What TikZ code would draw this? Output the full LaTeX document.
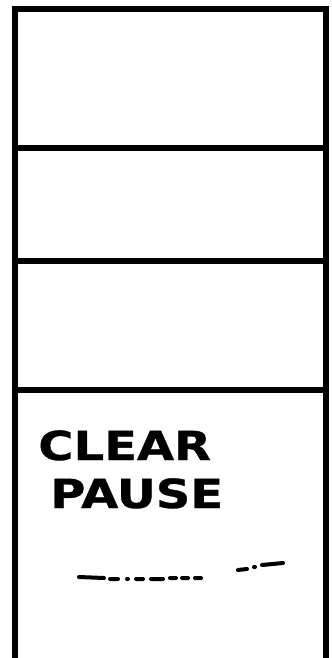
\documentclass[tikz,border=0pt]{standalone}
\usepackage{fontspec}
\newfontfamily\handfont[FakeBold=0.8]{DejaVu Sans Bold}
\tikzset{
  frame/.style={line width=4.8pt, line cap=rect},
  divider/.style={line width=4.8pt},
  scrib/.style={line width=3pt, line cap=round},
  lbl/.style={font=\handfont\fontsize{30}{30}\selectfont, anchor=base west, inner sep=0pt, xscale=1.2}
}
\begin{document}
\begin{tikzpicture}[x=0.75pt, y=-0.75pt]
\useasboundingbox (0,0) rectangle (332,658);
\coordinate (tl) at (15,9);
\coordinate (tr) at (326,9);
\coordinate (bl) at (15,662);
\coordinate (br) at (326,662);
\draw[frame] (bl) -- (tl) -- (tr) -- (br);
\coordinate (a1) at (15,148); \coordinate (a2) at (326,148);
\coordinate (b1) at (15,261); \coordinate (b2) at (326,261);
\coordinate (c1) at (15,390); \coordinate (c2) at (326,390);
\draw[divider] (a1) -- (a2);
\draw[divider] (b1) -- (b2);
\draw[divider] (c1) -- (c2);
\node[lbl] (clear) at (38,460) {CLEAR};
\node[lbl] (pause) at (50,508) {PAUSE};
\coordinate (d1) at (79,577); \coordinate (d2) at (104,578);
\coordinate (d3) at (110,579); \coordinate (d4) at (118,579);
\coordinate (d5) at (127,579); \coordinate (d6) at (128,579);
\coordinate (d7) at (136,579); \coordinate (d8) at (143,579);
\coordinate (d9) at (151,579); \coordinate (d10) at (163,579);
\coordinate (d11) at (170,578); \coordinate (d12) at (176,578);
\coordinate (d13) at (182,578); \coordinate (d14) at (188,578);
\coordinate (d15) at (195,578); \coordinate (d16) at (201,578);
\coordinate (e1) at (238,570); \coordinate (e2) at (247,569);
\coordinate (e3) at (254,567); \coordinate (e4) at (255,567);
\coordinate (e5) at (262,565); \coordinate (e6) at (283,563);
\draw[scrib] (d1) -- (d2) (d3) -- (d4) (d5) -- (d6) (d7) -- (d8)
  (d9) -- (d10) (d11) -- (d12) (d13) -- (d14) (d15) -- (d16)
  (e1) -- (e2) (e3) -- (e4) (e5) -- (e6);
\end{tikzpicture}
\end{document}
